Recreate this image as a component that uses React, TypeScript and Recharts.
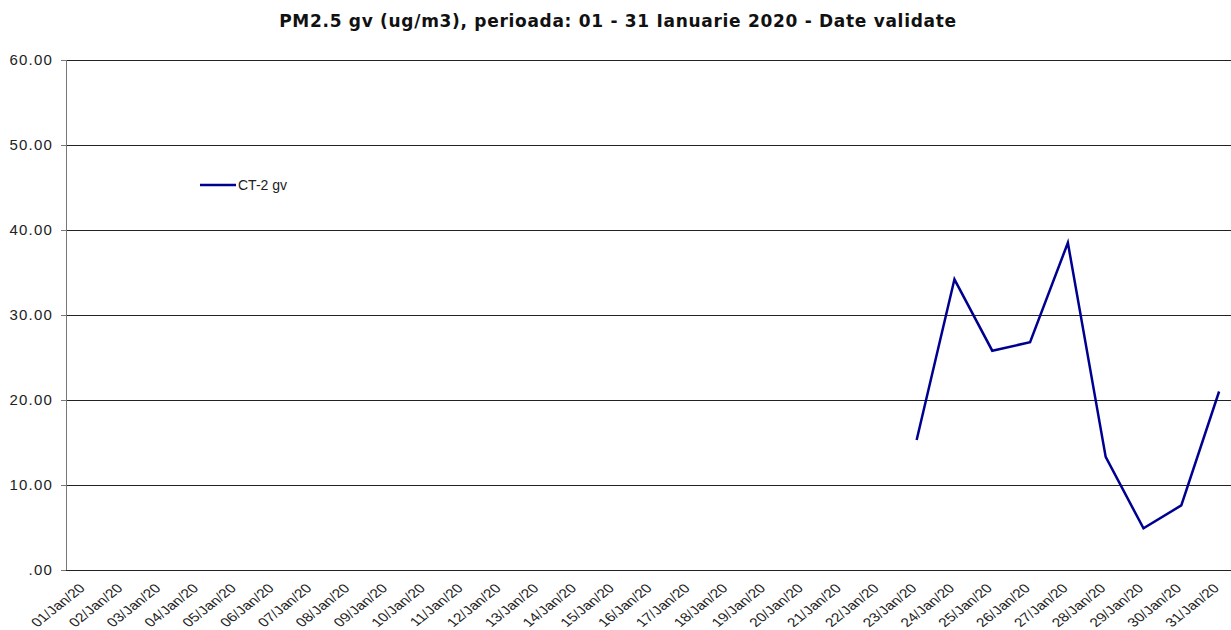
import React from 'react';
import { LineChart, Line, XAxis, YAxis, CartesianGrid, Legend } from 'recharts';

const days: string[] = [
  '01/Jan/20', '02/Jan/20', '03/Jan/20', '04/Jan/20', '05/Jan/20', '06/Jan/20', '07/Jan/20', '08/Jan/20',
  '09/Jan/20', '10/Jan/20', '11/Jan/20', '12/Jan/20', '13/Jan/20', '14/Jan/20', '15/Jan/20', '16/Jan/20',
  '17/Jan/20', '18/Jan/20', '19/Jan/20', '20/Jan/20', '21/Jan/20', '22/Jan/20', '23/Jan/20', '24/Jan/20',
  '25/Jan/20', '26/Jan/20', '27/Jan/20', '28/Jan/20', '29/Jan/20', '30/Jan/20', '31/Jan/20',
];

const ct2gv: (number | null)[] = [
  null, null, null, null, null, null, null, null, null, null, null,
  null, null, null, null, null, null, null, null, null, null, null,
  15.3, 34.2, 25.8, 26.8, 38.5, 13.3, 4.9, 7.6, 21.0,
];

const yTicks: number[] = [0, 10, 20, 30, 40, 50, 60];
const seriesName = 'CT-2 gv';
const title = 'PM2.5 gv (ug/m3), perioada: 01 - 31 Ianuarie 2020 - Date validate';

const data = days.map((d, i) => ({ x: i + 0.5, day: d, v: ct2gv[i] }));
const centerTicks = days.map((_, i) => i + 0.5);
const boundaryTicks = days.map((_, i) => i).concat([days.length]);

const XLabel = (props: any) => {
  const { x, y, payload } = props;
  const idx = Math.floor(payload.value);
  return (
    <g transform={`translate(${x + 1},${y + 11}) scale(1.25,1) rotate(-45)`}>
      <text
        x={0}
        y={0}
        textAnchor="end"
        fontFamily="'Liberation Sans', Arial, sans-serif"
        fontSize={12.5}
        fill="#222"
      >
        {days[idx]}
      </text>
    </g>
  );
};

const LegendContent = () => (
  <div style={{ display: 'flex', alignItems: 'center', fontFamily: "'Liberation Sans', Arial, sans-serif", fontSize: 14, color: '#222' }}>
    <svg width={36} height={6}>
      <line x1={0} y1={3} x2={36} y2={3} stroke="#000090" strokeWidth={2.5} />
    </svg>
    <span style={{ marginLeft: 2 }}>{seriesName}</span>
  </div>
);

export default function App() {
  return (
    <div style={{ position: 'absolute', left: 0, top: 0, width: 1231, height: 630, overflow: 'hidden', background: '#fff' }}>
      <div
        style={{
          position: 'absolute', left: 0, top: 11, width: 1236, textAlign: 'center',
          fontFamily: "'DejaVu Sans', Verdana, sans-serif", fontWeight: 'bold', fontSize: 17,
          letterSpacing: 0.7, color: '#111', whiteSpace: 'nowrap',
        }}
      >
        {title}
      </div>
      <LineChart width={1250} height={630} data={data} margin={{ top: 60, right: 12, left: 0, bottom: 0 }}>
        <CartesianGrid xAxisId="c" horizontal={true} vertical={false} stroke="#222" strokeWidth={1} shapeRendering="crispEdges" />
        <XAxis
          xAxisId="b"
          type="number"
          dataKey="x"
          domain={[0, days.length]}
          ticks={boundaryTicks}
          tick={false}
          height={0}
          tickSize={5}
          axisLine={{ stroke: '#222', shapeRendering: 'crispEdges' }}
          tickLine={{ stroke: '#222', shapeRendering: 'crispEdges' }}
          allowDataOverflow
        />
        <XAxis
          xAxisId="c"
          type="number"
          dataKey="x"
          domain={[0, days.length]}
          ticks={centerTicks}
          interval={0}
          height={60}
          axisLine={false}
          tickLine={false}
          tick={<XLabel />}
          allowDataOverflow
        />
        <YAxis
          type="number"
          domain={[0, 60]}
          ticks={yTicks}
          width={66}
          tickSize={5}
          tickMargin={8}
          axisLine={{ stroke: '#777', shapeRendering: 'crispEdges' }}
          tickLine={{ stroke: '#777', shapeRendering: 'crispEdges' }}
          tickFormatter={(v: number) => (v === 0 ? '.00' : v.toFixed(2))}
          tick={{ fontFamily: "'Liberation Sans', Arial, sans-serif", fontSize: 15, fill: '#222', letterSpacing: 1.2 }}
        />
        <Legend
          layout="vertical"
          align="center"
          verticalAlign="middle"
          content={<LegendContent />}
          wrapperStyle={{ left: 200, top: 177, width: 150 }}
        />
        <Line
          xAxisId="c"
          type="linear"
          dataKey="v"
          name={seriesName}
          stroke="#000090"
          strokeWidth={2.5}
          dot={false}
          activeDot={false}
          connectNulls={false}
          isAnimationActive={false}
        />
      </LineChart>
    </div>
  );
}
